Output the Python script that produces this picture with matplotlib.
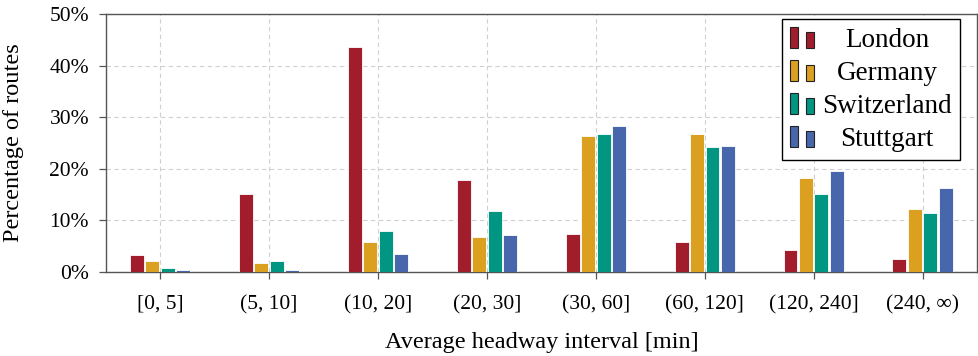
import matplotlib
matplotlib.use("Agg")
import matplotlib.pyplot as plt
import numpy as np
from matplotlib.legend_handler import HandlerBase
from matplotlib.patches import Rectangle
from matplotlib.ticker import FuncFormatter

plt.rcParams['font.family'] = ['Liberation Serif', 'DejaVu Serif']

# headway interval buckets
categories = ['[0, 5]', '(5, 10]', '(10, 20]', '(20, 30]', '(30, 60]',
              '(60, 120]', '(120, 240]', '(240, ∞)']

# share of routes per bucket, in percent
london = [3.3, 15.2, 43.5, 17.8, 7.4, 5.8, 4.3, 2.6]
germany = [2.1, 1.7, 5.8, 6.8, 26.4, 26.7, 18.3, 12.2]
switzerland = [0.7, 2.1, 7.9, 11.9, 26.7, 24.2, 15.2, 11.4]
stuttgart = [0.4, 0.4, 3.5, 7.1, 28.3, 24.4, 19.6, 16.2]

series = [('London', london, '#a11d2b'),
          ('Germany', germany, '#dca021'),
          ('Switzerland', switzerland, '#009682'),
          ('Stuttgart', stuttgart, '#4866ab')]


class TwoBarHandler(HandlerBase):
    # pgfplots-style ybar legend image: two little bars
    def create_artists(self, legend, orig_handle, xdescent, ydescent,
                       width, height, fontsize, trans):
        fc = orig_handle.get_facecolor()
        x0, y0 = -xdescent, -ydescent
        bw = width * 0.33
        r1 = Rectangle((x0, y0), bw, height, facecolor=fc,
                       edgecolor='#222222', lw=0.8, transform=trans)
        r2 = Rectangle((x0 + width - bw, y0), bw, height * 0.77, facecolor=fc,
                       edgecolor='#222222', lw=0.8, transform=trans)
        return [r1, r2]


fig = plt.figure(figsize=(9.79, 3.56), dpi=100)
ax = fig.add_axes([0.108, 0.236, 0.890, 0.725])

x = np.arange(len(categories))
bw = 0.128
step = 0.142
handles = []
for i, (name, vals, col) in enumerate(series):
    bars = ax.bar(x + (i - 1.5) * step, vals, width=bw, color=col,
                  edgecolor='white', linewidth=0.6, label=name, zorder=3)
    handles.append(bars[0])

ax.set_xlim(-0.5, len(categories) - 0.5)
ax.set_ylim(0, 50)
ax.set_xticks(x)
ax.set_xticklabels(categories)
ax.set_yticks(np.arange(0, 51, 10))
ax.yaxis.set_major_formatter(FuncFormatter(lambda v, p: f'{v:.0f}%'))
ax.tick_params(axis='both', labelsize=15.5, direction='out', length=5,
               color='#555555', width=0.9)
ax.tick_params(axis='x', pad=11.5)
ax.tick_params(axis='y', pad=7)
ax.grid(True, linestyle=(0, (4, 3)), color='#d0d0d0', linewidth=0.8, zorder=0)
ax.set_axisbelow(True)
for sp in ax.spines.values():
    sp.set_color('#555555')
    sp.set_linewidth(1.0)

ax.set_ylabel('Percentage of routes', fontsize=17.5)
ax.yaxis.set_label_coords(-0.094, 0.5)
ax.set_xlabel('Average headway interval [min]', fontsize=17.5, labelpad=13)

leg = ax.legend(handles=handles, labels=[s[0] for s in series],
                handler_map={h: TwoBarHandler() for h in handles},
                loc='upper right', bbox_to_anchor=(0.9805, 0.9806),
                borderaxespad=0, fontsize=19.5, fancybox=False,
                edgecolor='black', framealpha=1, handlelength=0.88,
                handleheight=0.8, handletextpad=0.3, labelspacing=0.27,
                borderpad=0.3)
leg.get_frame().set_linewidth(1.0)

# center legend entries within the text column
fig.canvas.draw()
renderer = fig.canvas.get_renderer()
widths = [t.get_window_extent(renderer).width for t in leg.get_texts()]
for t, w in zip(leg.get_texts(), widths):
    t.set_position(((max(widths) - w) / 2, 0))

fig.savefig('out.png', dpi=100)
